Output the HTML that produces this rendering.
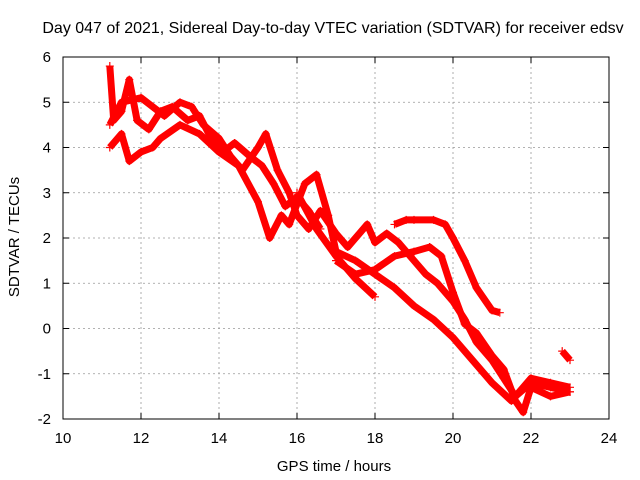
<!DOCTYPE html>
<html><head><meta charset="utf-8"><style>
html,body{margin:0;padding:0;background:#fff}
svg{display:block;font-family:"Liberation Sans",sans-serif}
</style></head><body>
<svg id="chart" width="640" height="480" viewBox="0 0 640 480">
<text x="333" y="33" font-size="16" text-anchor="middle">Day 047 of 2021, Sidereal Day-to-day VTEC variation (SDTVAR) for receiver edsv</text>
<text x="334" y="471" font-size="15" text-anchor="middle">GPS time / hours</text>
<text transform="translate(19,237) rotate(-90)" font-size="15" text-anchor="middle">SDTVAR / TECUs</text>
<g id="grid"></g><g id="series"></g>
<rect x="63" y="57" width="546" height="362" fill="none" stroke="#000"/>
</svg>
<script>
const xTicks=[10,12,14,16,18,20,22,24];
const yTicks=[-2,-1,0,1,2,3,4,5,6];
const traceA=[[11.2,4.5],[11.5,5.0],[12,5.1],[12.3,4.9],[12.6,4.7],[13,5.0],[13.3,4.9],[13.6,4.5],[14,4.2],[14.3,3.8],[14.6,3.5],[15,4.0],[15.2,4.3],[15.5,3.5],[15.8,3.0],[16,2.5],[16.3,2.2],[16.6,2.6],[17,2.1],[17.3,1.8],[17.6,2.1],[17.8,2.3],[18,1.9],[18.3,2.1],[18.6,1.9],[19,1.5],[19.3,1.2],[19.6,1.0],[20,0.6],[20.3,0.2],[20.6,-0.3],[21,-0.7],[21.3,-1.1],[21.6,-1.5],[22,-1.2],[22.5,-1.3],[23,-1.4]];
const traceB=[[18.5,2.3],[18.8,2.4],[19,2.4],[19.5,2.4],[19.8,2.3],[20,2.0],[20.3,1.5],[20.6,0.9],[21,0.4],[21.2,0.35]];
const traceC=[[17,1.5],[17.5,1.2],[18,1.3],[18.5,1.6],[19,1.7],[19.4,1.8],[19.7,1.6],[20,0.8],[20.3,0.1],[20.6,-0.1],[21,-0.6],[21.3,-0.9],[21.6,-1.6],[21.8,-1.85],[22,-1.3],[22.5,-1.5],[23,-1.4]];
const traceD=[[16,3.0],[16.5,2.2],[17,1.6],[17.5,1.1],[18,0.7]];
const traceE=[[11.2,4.0],[11.5,4.3],[11.7,3.7],[12,3.9],[12.3,4.0],[12.5,4.2],[13,4.5],[13.5,4.3],[14,3.9],[14.5,3.6],[15,2.8],[15.3,2.0],[15.6,2.5],[15.8,2.3],[16.2,3.2],[16.5,3.4],[16.8,2.5],[17,1.7],[17.5,1.5],[18,1.2],[18.5,0.9],[19,0.5],[19.5,0.2],[20,-0.2],[20.5,-0.7],[21,-1.2],[21.5,-1.6],[22,-1.1],[22.5,-1.2],[23,-1.3]];
const traceF=[[22.8,-0.5],[23,-0.7]];
const traceG=[[11.2,5.8],[11.3,4.6],[11.5,4.8],[11.7,5.5],[11.9,4.6],[12.2,4.4],[12.5,4.8],[12.8,4.9],[13.2,4.6],[13.5,4.7],[13.8,4.2],[14.1,3.9],[14.4,4.1],[14.8,3.8],[15.1,3.6],[15.4,3.2],[15.7,2.7],[16.0,2.9],[16.3,2.6],[16.6,2.2]];
const traces=[traceA,traceB,traceC,traceD,traceE,traceF,traceG];
const NS="http://www.w3.org/2000/svg";
const X0=63,X1=609,Y0=419,Y1=57;
function sx(v){return X0+(v-10)/(24-10)*(X1-X0);}
function sy(v){return Y0-(v+2)/(6+2)*(Y0-Y1);}
function mk(t,a,p){const e=document.createElementNS(NS,t);for(const k in a)e.setAttribute(k,a[k]);p.appendChild(e);return e;}
const grid=document.getElementById('grid');
xTicks.forEach(t=>{const x=sx(t);
 if(t>10&&t<24){const l=mk('line',{x1:x,x2:x,y1:Y1,y2:Y0,stroke:'#999','stroke-dasharray':'2,3','stroke-width':0.8},grid);
 
 }
 const tx=mk('text',{x:x,y:443,'font-size':15,'text-anchor':'middle'},grid);tx.textContent=t;
 
 
 mk('line',{x1:x,x2:x,y1:Y0,y2:Y0-6,stroke:'#000'},grid);mk('line',{x1:x,x2:x,y1:Y1,y2:Y1+6,stroke:'#000'},grid);});
yTicks.forEach(t=>{const y=sy(t);
 if(t>-2&&t<6){const l=mk('line',{x1:X0,x2:X1,y1:y,y2:y,stroke:'#999','stroke-dasharray':'2,3','stroke-width':0.8},grid);
 
 }
 const tx=mk('text',{x:51,y:y+5,'font-size':15,'text-anchor':'end'},grid);tx.textContent=t;
 
 
 mk('line',{x1:X0,x2:X0+6,y1:y,y2:y,stroke:'#000'},grid);mk('line',{x1:X1,x2:X1-6,y1:y,y2:y,stroke:'#000'},grid);});
const sg=document.getElementById('series');
traces.forEach((tr,i)=>{
 const g=mk('g',{},sg);
 
 
 mk('polyline',{points:tr.map(p=>sx(p[0])+','+sy(p[1])).join(' '),fill:'none',stroke:'#f00','stroke-width':7,'stroke-linejoin':'round'},g);
 tr.forEach(p=>{const x=sx(p[0]),y=sy(p[1]);
  const m=mk('path',{d:`M${x-4},${y}h8M${x},${y-4}v8`,stroke:'#f00','stroke-width':1.2},g);
  
  });
});
</script>
</body></html>
